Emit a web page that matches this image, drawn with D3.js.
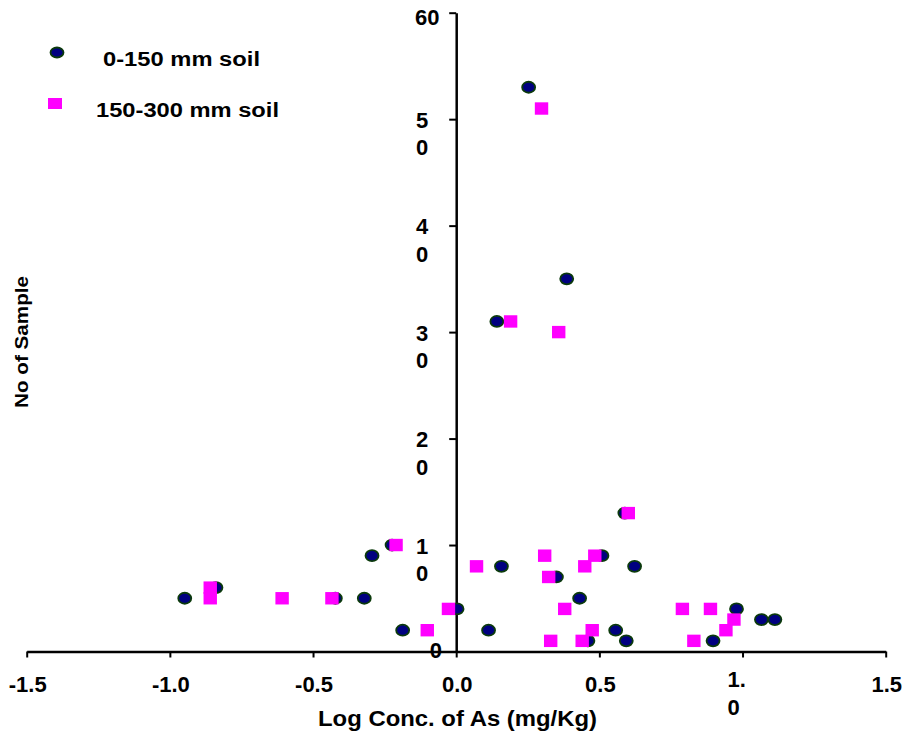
<!DOCTYPE html>
<html>
<head>
<meta charset="utf-8">
<style>
  body { margin: 0; background: #fff; }
  svg text { font-family: "Liberation Sans", Arial, sans-serif; font-weight: bold; fill: #000; }
</style>
</head>
<body>
<svg width="912" height="734"></svg>
<script src="https://d3js.org/d3.v7.min.js"></script>
<script>
// 0-150 mm soil (circles)
var topX = [-0.948, -0.839, -0.422, -0.321, -0.294, -0.224, -0.187, 0.003, 0.113, 0.142, 0.158, 0.253, 0.350,
            0.386, 0.431, 0.460, 0.509, 0.557, 0.589, 0.594, 0.623, 0.897, 0.979, 1.066, 1.113];
var topY = [5, 6, 5, 5, 9, 10, 2, 4, 2, 31, 8, 53, 7, 35, 5, 1, 9, 2, 13, 1, 8, 1, 4, 3, 3];

// 150-300 mm soil (squares)
var subX = [-0.859, -0.859, -0.608, -0.434, -0.210, -0.101, -0.027, 0.071, 0.190, 0.298, 0.309, 0.323, 0.330,
            0.358, 0.379, 0.440, 0.449, 0.475, 0.484, 0.601, 0.790, 0.830, 0.888, 0.942, 0.970];
var subY = [6, 5, 5, 5, 10, 2, 4, 8, 31, 51, 9, 7, 1, 30, 4, 1, 8, 2, 9, 13, 4, 1, 4, 2, 3];

var seriesNames = ["0-150 mm soil", "150-300 mm soil"];

var xTicks = [-1.5, -1.0, -0.5, 0.0, 0.5, 1.0, 1.5];
var xTickLabels = [["-1.5"], ["-1.0"], ["-0.5"], ["0.0"], ["0.5"], ["1.", "0"], ["1.5"]];
var yTicks = [0, 10, 20, 30, 40, 50, 60];
var yTickLabels = [["0"], ["1", "0"], ["2", "0"], ["3", "0"], ["4", "0"], ["5", "0"], ["60"]];

var svg = d3.select("svg");

var x = d3.scaleLinear().domain([-1.5, 1.5]).range([26.7, 885.7]);
var y = d3.scaleLinear().domain([0, 60]).range([651.5, 12.7]);

// x axis
var gx = svg.append("g")
    .attr("transform", "translate(0," + y(0) + ")")
    .call(d3.axisBottom(x).tickValues(xTicks).tickSize(6).tickSizeOuter(0).tickFormat(""));
gx.select(".domain").attr("stroke", "#000").attr("stroke-width", 2.5);
gx.selectAll(".tick line").attr("stroke", "#000").attr("stroke-width", 2);

xTicks.forEach(function(v, i) {
  var lines = xTickLabels[i];
  var t = svg.append("text").attr("font-size", 22);
  if (lines.length === 1) {
    t.attr("x", x(v) + 1).attr("y", 691.5).attr("text-anchor", "middle").text(lines[0]);
  } else {
    t.attr("text-anchor", "start");
    t.append("tspan").attr("x", x(v) - 15).attr("y", 686.5).text(lines[0]);
    t.append("tspan").attr("x", x(v) - 15).attr("y", 714.5).text(lines[1]);
  }
});

// y axis
var gy = svg.append("g")
    .attr("transform", "translate(" + x(0) + ",0)")
    .call(d3.axisLeft(y).tickValues(yTicks).tickSize(7).tickSizeOuter(0).tickFormat(""));
gy.select(".domain").attr("stroke", "#000").attr("stroke-width", 2.5);
gy.selectAll(".tick line").attr("stroke", "#000").attr("stroke-width", 2);

yTicks.forEach(function(v, i) {
  var lines = yTickLabels[i];
  var t = svg.append("text").attr("font-size", 22);
  if (v === 0) {
    t.attr("x", 442).attr("y", y(v) + 6.5).attr("text-anchor", "end").text(lines[0]);
  } else if (lines.length === 1) {
    t.attr("x", 415).attr("y", y(v) + 12.3).attr("text-anchor", "start").text(lines[0]);
  } else {
    t.append("tspan").attr("x", 416).attr("y", y(v) + 8.5).text(lines[0]);
    t.append("tspan").attr("x", 416).attr("y", y(v) + 36).text(lines[1]);
  }
});

// axis titles
svg.append("text")
    .attr("x", 457.5).attr("y", 726)
    .attr("text-anchor", "middle")
    .attr("font-size", 22)
    .attr("textLength", 279).attr("lengthAdjust", "spacingAndGlyphs")
    .text("Log Conc. of As (mg/Kg)");

svg.append("text")
    .attr("transform", "translate(28,342) rotate(-90)")
    .attr("text-anchor", "middle")
    .attr("font-size", 18)
    .attr("textLength", 132).attr("lengthAdjust", "spacingAndGlyphs")
    .text("No of Sample");

// markers: circles first, squares on top
var topData = topX.map(function(d, i) { return [d, topY[i]]; });
var subData = subX.map(function(d, i) { return [d, subY[i]]; });

svg.append("g").selectAll("ellipse")
  .data(topData)
  .enter().append("ellipse")
    .attr("cx", function(d) { return x(d[0]); })
    .attr("cy", function(d) { return y(d[1]); })
    .attr("rx", 6.5)
    .attr("ry", 5.5)
    .attr("fill", "#000080")
    .attr("stroke", "#0b3a0b")
    .attr("stroke-width", 1.8);

svg.append("g").selectAll("rect")
  .data(subData)
  .enter().append("rect")
    .attr("x", function(d) { return x(d[0]) - 6.7; })
    .attr("y", function(d) { return y(d[1]) - 6.2; })
    .attr("width", 13.4)
    .attr("height", 12.4)
    .attr("fill", "#ff00ff");

// legend
svg.append("ellipse")
    .attr("cx", 57).attr("cy", 52.5).attr("rx", 6.5).attr("ry", 5)
    .attr("fill", "#000080").attr("stroke", "#0b3a0b").attr("stroke-width", 1.8);
svg.append("text")
    .attr("x", 103).attr("y", 66)
    .attr("font-size", 20)
    .attr("textLength", 157).attr("lengthAdjust", "spacingAndGlyphs")
    .text(seriesNames[0]);

svg.append("rect")
    .attr("x", 48).attr("y", 98).attr("width", 14).attr("height", 11)
    .attr("fill", "#ff00ff");
svg.append("text")
    .attr("x", 96).attr("y", 117)
    .attr("font-size", 20)
    .attr("textLength", 183).attr("lengthAdjust", "spacingAndGlyphs")
    .text(seriesNames[1]);
</script>
</body>
</html>
